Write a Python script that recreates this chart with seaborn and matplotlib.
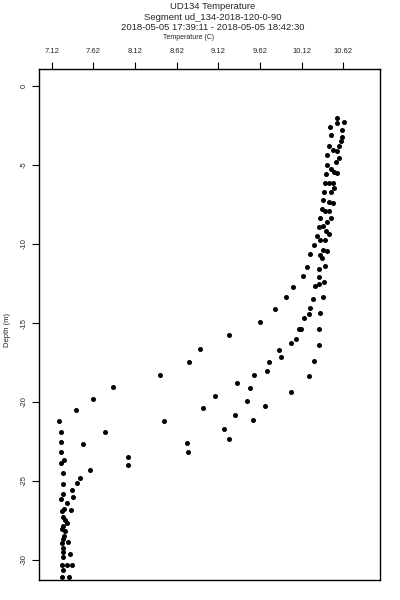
import matplotlib
matplotlib.use("Agg")
import matplotlib.pyplot as plt
import seaborn as sns

# ─── data ──────────────────────────────────────────────────────────────
temperature = [
    10.548, 10.632, 10.548, 10.460, 10.608, 10.468, 10.608, 10.588, 10.452, 10.572,
    10.500, 10.548, 10.564, 10.420, 10.532, 10.420, 10.468, 10.508, 10.540, 10.412,
    10.404, 10.444, 10.492, 10.512, 10.388, 10.472, 10.380, 10.448, 10.492, 10.360,
    10.404, 10.452, 10.340, 10.472, 10.428, 10.324, 10.372, 10.412, 10.300, 10.340,
    10.396, 10.452, 10.268, 10.380, 10.428, 10.220, 10.340, 10.364, 10.180, 10.332,
    10.404, 10.140, 10.324, 10.284, 10.324, 10.388, 10.020, 9.932, 10.252, 10.372,
    9.804, 10.220, 10.148, 10.204, 10.340, 9.620, 10.084, 10.108, 10.332, 9.252,
    10.052, 9.988, 10.324, 8.900, 9.844, 9.868, 8.772, 9.724, 10.268, 8.420,
    9.548, 9.708, 10.212, 7.852, 9.340, 9.500, 9.988, 7.620, 9.076, 9.460,
    7.412, 8.932, 9.676, 9.324, 8.468, 7.212, 9.532, 9.188, 7.228, 7.756,
    7.228, 7.492, 8.740, 9.252, 7.236, 8.756, 7.236, 7.268, 8.040, 8.032,
    7.580, 7.260, 7.460, 7.252, 7.420, 7.364, 7.260, 7.380, 7.236, 7.308,
    7.268, 7.348, 7.244, 7.260, 7.276, 7.300, 7.252, 7.244, 7.284, 7.268,
    7.260, 7.244, 7.316, 7.252, 7.260, 7.340, 7.260, 7.244, 7.300, 7.364,
    7.252, 7.244, 7.332,
]
depth = [
    -2.05, -2.26, -2.32, -2.57, -2.78, -3.10, -3.21, -3.48, -3.78, -3.78,
    -4.05, -4.11, -4.58, -4.37, -4.79, -5.00, -5.25, -5.42, -5.53, -5.55,
    -6.12, -6.12, -6.12, -6.46, -6.69, -6.73, -7.22, -7.32, -7.42, -7.80,
    -7.89, -7.93, -8.37, -8.37, -8.59, -8.90, -8.86, -9.18, -9.49, -9.75,
    -9.75, -9.39, -10.06, -10.38, -10.42, -10.63, -10.70, -10.91, -11.44, -11.56,
    -11.37, -12.03, -12.11, -12.66, -12.55, -12.41, -12.70, -13.37, -13.48, -13.37,
    -14.11, -14.05, -14.70, -14.45, -14.37, -14.96, -15.36, -15.36, -15.36, -15.76,
    -15.99, -16.25, -16.37, -16.66, -16.71, -17.13, -17.49, -17.47, -17.39, -18.31,
    -18.29, -18.02, -18.37, -19.07, -18.82, -19.09, -19.35, -19.81, -19.64, -19.96,
    -20.51, -20.40, -20.27, -20.80, -21.18, -21.22, -21.14, -21.69, -21.90, -21.92,
    -22.55, -22.66, -22.58, -22.32, -23.18, -23.18, -23.84, -23.67, -23.46, -24.01,
    -24.30, -24.51, -24.79, -25.21, -25.15, -25.59, -25.84, -25.99, -26.12, -26.37,
    -26.79, -26.84, -26.92, -27.26, -27.47, -27.64, -27.85, -28.06, -28.15, -28.48,
    -28.65, -28.94, -28.88, -29.26, -29.47, -29.60, -29.79, -30.32, -30.34, -30.34,
    -30.65, -31.08, -31.08,
]

x_ticks = [7.12, 7.62, 8.12, 8.62, 9.12, 9.62, 10.12, 10.62]
x_tick_labels = ["7.12", "7.62", "8.12", "8.62", "9.12", "9.62", "10.12", "10.62"]
y_ticks = [0, -5, -10, -15, -20, -25, -30]

title = ("UD134 Temperature\n"
         "Segment ud_134-2018-120-0-90\n"
         "2018-05-05 17:39:11 - 2018-05-05 18:42:30")

# ─── plot ──────────────────────────────────────────────────────────────
sns.set_theme(style="ticks")
plt.rcParams['font.family'] = ['Liberation Sans', 'DejaVu Sans']

fig = plt.figure(figsize=(4, 6), dpi=100)
ax = fig.add_axes([0.0975, 0.0333, 0.8525, 0.8517])

sns.scatterplot(x=temperature, y=depth, ax=ax, color='black', marker='o',
                s=13, linewidth=0)

ax.set_xlim(6.968, 11.06)
ax.set_ylim(-31.27, 1.08)

# x axis on top
ax.xaxis.tick_top()
ax.set_xticks(x_ticks)
ax.set_xticklabels(x_tick_labels, fontsize=5.5)
ax.set_yticks(y_ticks)
ax.set_yticklabels([str(v) for v in y_ticks], fontsize=5.5, rotation=90, va='center')
ax.tick_params(axis='x', direction='out', length=5, width=0.8, pad=5, color='black')
ax.tick_params(axis='y', direction='out', length=5, width=0.8, pad=3, color='black')

for side in ['top', 'bottom', 'left', 'right']:
    ax.spines[side].set_visible(True)
    ax.spines[side].set_color('black')
    ax.spines[side].set_linewidth(1.0)

ax.xaxis.set_label_position('top')
ax.set_xlabel('Temperature (C)', fontsize=5.0)
ax.xaxis.set_label_coords(0.44, 1.061)
ax.xaxis.label.set_va('center')

ax.set_ylabel('Depth (m)', fontsize=5.5)
ax.yaxis.set_label_coords(-0.093, 0.49)
ax.yaxis.label.set_va('center')

fig.text(0.532, 0.996, title, ha='center', va='top', fontsize=6.8,
         linespacing=1.18)

plt.savefig('out.png', dpi=100, facecolor='white')
plt.close()
